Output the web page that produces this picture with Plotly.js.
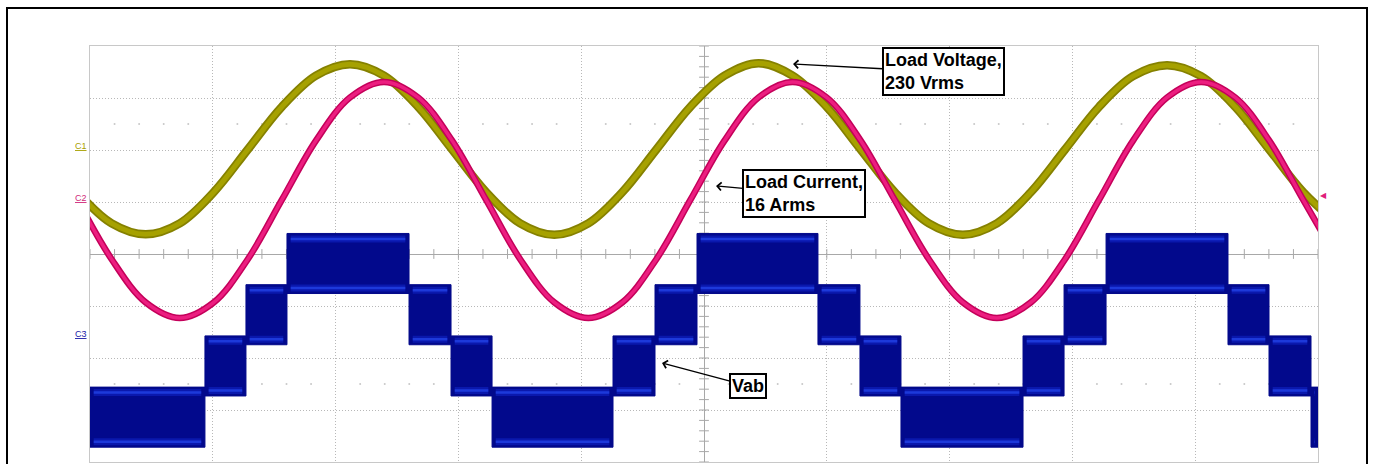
<!DOCTYPE html>
<html>
<head>
<meta charset="utf-8">
<script src="https://cdn.plot.ly/plotly-3.0.1.min.js"></script>
<style>
  html, body { margin: 0; padding: 0; background: #fff; overflow: hidden; }
  #chart { position: absolute; left: 0; top: 0; width: 1375px; height: 464px; }
  #frame { position: absolute; left: 6px; top: 7px; width: 1362px; height: 520px;
           border: 2px solid #000; box-sizing: border-box; pointer-events: none; }
</style>
</head>
<body>
<div id="chart"></div>
<div id="frame"></div>
<script>
const timeDiv = [-5.101,-4.824,-4.547,-4.269,-3.992,-3.715,-3.438,-3.160,-2.883,-2.606,-2.328,-2.051,-1.774,-1.497,-1.219,-0.942,-0.665,-0.388,-0.111,0.167,0.444,0.721,0.999,1.276,1.553,1.831,2.108,2.385,2.662,2.940,3.217,3.494,3.771,4.048,4.326,4.603,4.880,5.158];
const loadVoltage = [1.19,0.59,0.38,0.59,1.19,2.01,2.83,3.43,3.65,3.43,2.83,2.01,1.19,0.59,0.37,0.59,1.19,2.01,2.83,3.43,3.67,3.43,2.83,2.01,1.19,0.59,0.37,0.59,1.19,2.01,2.83,3.42,3.63,3.42,2.83,2.01,1.19,0.59];
const loadCurrent = [1.04,-0.10,-0.93,-1.23,-0.93,-0.10,1.04,2.18,3.01,3.31,3.01,2.18,1.04,-0.10,-0.93,-1.23,-0.93,-0.10,1.04,2.18,3.01,3.31,3.01,2.18,1.04,-0.10,-0.93,-1.23,-0.93,-0.10,1.04,2.18,3.01,3.31,3.01,2.18,1.04,-0.10];
// Vab: 5-level staircase, switching band between level vabLow and vabLow+1
const vabEdges = [-5,-4.064,-3.730,-3.396,-2.402,-2.060,-1.726,-0.741,-0.399,-0.057,0.928,1.270,1.604,2.598,2.932,3.274,4.267,4.601,4.943,5];
const vabLow   = [-2,-1,0,1,0,-1,-2,-1,0,1,0,-1,-2,-1,0,1,0,-1,-2];
const channelLabels = ['C1','C2','C3'];
const channelRefDiv = [2.0, 1.0, -1.62];

// ---- scope display constants ----
const C3_OFFSET = -1.66, LEVEL_DIV = 0.985, BAND_PAD = 0.085;
const lv = k => C3_OFFSET + k * LEVEL_DIV;

// Vab envelopes
const upX = vabEdges.slice(), upY = [], loY = [];
vabLow.forEach(k => { upY.push(lv(k + 1) + BAND_PAD); loY.push(lv(k) - BAND_PAD); });
upY.push(upY[upY.length - 1]); loY.push(loY[loY.length - 1]);
// bright level lines
const brX = [], brY = [];
vabLow.forEach((k, i) => {
  const x0 = vabEdges[i] + 0.03, x1 = vabEdges[i + 1] - 0.03;
  brX.push(x0, x1, null, x0, x1, null);
  brY.push(lv(k + 1) - 0.02, lv(k + 1) - 0.02, null, lv(k) + 0.02, lv(k) + 0.02, null);
});

// center graticule ticks and dotted rows
const tickX = [], tickY = [], vtX = [], vtY = [], dotX = [], dotY = [];
for (let i = -25; i <= 25; i++) { const x = i / 5; tickX.push(x); tickY.push(0);
  if (i % 5 !== 0) { dotX.push(x, x); dotY.push(2.5, -2.5); } }
for (let i = -20; i <= 20; i++) { vtX.push(0); vtY.push(i / 5); }

const traces = [
  { x: dotX, y: dotY, mode: 'markers', marker: { size: 2, color: '#c8c8c8' }, hoverinfo: 'skip' },
  { x: tickX, y: tickY, mode: 'markers', marker: { symbol: 'line-ns', size: 7, line: { width: 1, color: '#a8a8a8' } }, hoverinfo: 'skip' },
  { x: vtX, y: vtY, mode: 'markers', marker: { symbol: 'line-ew', size: 7, line: { width: 1, color: '#a8a8a8' } }, hoverinfo: 'skip' },
  // Vab band
  { x: upX, y: upY, mode: 'lines', line: { shape: 'hv', width: 1, color: '#03098a' }, hoverinfo: 'skip' },
  { x: upX, y: loY, mode: 'lines', line: { shape: 'hv', width: 1, color: '#03098a' }, fill: 'tonexty', fillcolor: '#02098c', hoverinfo: 'skip' },
  { x: brX, y: brY, mode: 'lines', line: { width: 7, color: 'rgba(25,55,235,0.35)' }, connectgaps: false, hoverinfo: 'skip' },
  { x: brX, y: brY, mode: 'lines', line: { width: 2.5, color: 'rgba(45,85,255,0.55)' }, connectgaps: false, hoverinfo: 'skip' },
  // Load voltage
  { x: timeDiv, y: loadVoltage, mode: 'lines', line: { shape: 'spline', width: 8.5, color: '#858100' }, hoverinfo: 'skip' },
  { x: timeDiv, y: loadVoltage, mode: 'lines', line: { shape: 'spline', width: 5, color: '#a6a100' }, hoverinfo: 'skip' },
  // Load current
  { x: timeDiv, y: loadCurrent, mode: 'lines', line: { shape: 'spline', width: 6.5, color: '#c4005a' }, hoverinfo: 'skip' },
  { x: timeDiv, y: loadCurrent, mode: 'lines', line: { shape: 'spline', width: 3.5, color: '#ec1e80' }, hoverinfo: 'skip' }
];

const boxFont = { family: 'Arial, "Liberation Sans", sans-serif', size: 18, color: '#000', weight: 'bold' };
const labelColors = ['#a8a000', '#d0287a', '#1a1aa8'];
const annotations = [
  { x: 0.725, y: 3.654, ax: 150, ay: 8, text: '<b>Load Voltage,<br>230 Vrms</b>', align: 'left',
    font: boxFont, showarrow: true, arrowhead: 4, arrowsize: 1.2, arrowwidth: 1.3, arrowcolor: '#000',
    bordercolor: '#000', borderwidth: 2, borderpad: 1, bgcolor: '#fff' },
  { x: 0.098, y: 1.308, ax: 88, ay: 8, text: '<b>Load Current,<br>16 Arms</b>', align: 'left',
    font: boxFont, showarrow: true, arrowhead: 4, arrowsize: 1.2, arrowwidth: 1.3, arrowcolor: '#000',
    bordercolor: '#000', borderwidth: 2, borderpad: 1, bgcolor: '#fff' },
  { x: -0.342, y: -2.096, ax: 86, ay: 23, text: '<b>Vab</b>', align: 'left',
    font: boxFont, showarrow: true, arrowhead: 4, arrowsize: 1.2, arrowwidth: 1.3, arrowcolor: '#000',
    bordercolor: '#000', borderwidth: 2, borderpad: 1, bgcolor: '#fff' },
  { xref: 'paper', x: 1, xanchor: 'left', xshift: 0, y: 1.15, yanchor: 'middle', text: '◀', showarrow: false,
    font: { size: 8, color: '#e0207a' } }
];
channelLabels.forEach((c, i) => annotations.push({
  xref: 'paper', x: 0, xanchor: 'right', xshift: -1, y: channelRefDiv[i], yanchor: 'bottom', yshift: -3,
  text: '<u>' + c + '</u>', showarrow: false, font: { family: 'Arial, sans-serif', size: 9, color: labelColors[i] }
}));

const axisCommon = { showticklabels: false, ticks: '', showgrid: true, gridcolor: '#b8b8b8', gridwidth: 1,
  griddash: '1px,2px', zeroline: true, zerolinecolor: '#a8a8a8', zerolinewidth: 1,
  showline: true, linecolor: '#c8c8c8', linewidth: 1, mirror: true, fixedrange: true };

const layout = {
  width: 1375, height: 464,
  margin: { l: 90, r: 57, t: 46, b: 2 },
  paper_bgcolor: '#fff', plot_bgcolor: '#fff',
  showlegend: false,
  xaxis: Object.assign({ range: [-5, 5], dtick: 1, tick0: 0 }, axisCommon),
  yaxis: Object.assign({ range: [-4, 4], dtick: 1, tick0: 0 }, axisCommon),
  annotations: annotations
};

Plotly.newPlot('chart', traces, layout, { staticPlot: true, displayModeBar: false });
</script>
</body>
</html>
